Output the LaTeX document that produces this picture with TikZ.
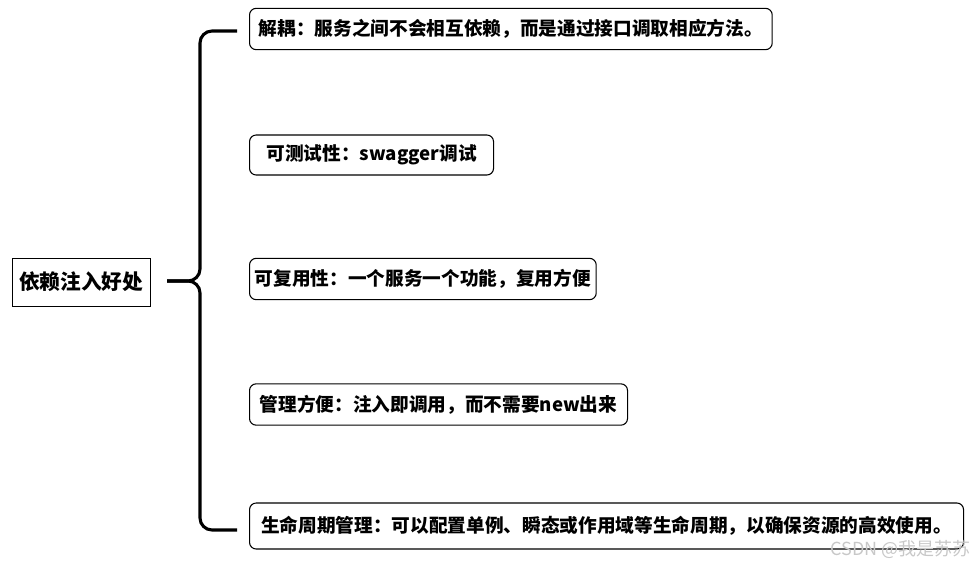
\documentclass[tikz,border=0pt]{standalone}
\usepackage{fontspec}
\setmainfont{Noto Sans CJK SC}
\newfontfamily\cjkbold{Noto Sans CJK SC}[BoldFont={* Bold}]
\usetikzlibrary{positioning}
\definecolor{mark-gray}{HTML}{C8C8C8}

\begin{document}
\begin{tikzpicture}[x=0.75pt,y=-0.75pt,
  rootbox/.style={draw, line width=0.6pt, minimum width=103.5pt, minimum height=36pt, inner sep=0pt, font=\fontsize{15.5}{18}\selectfont\bfseries},
  itembox/.style={draw, line width=0.8pt, rounded corners=5pt, anchor=west, minimum height=31pt, inner sep=0pt, font=\fontsize{14}{17}\selectfont\bfseries},
  brace/.style={line width=2.3pt, rounded corners=9pt}]
\useasboundingbox (0,0) rectangle (980,567);
% root
\node[rootbox] (root) at (81,282) {依赖注入好处};
% items
\node[itembox, minimum width=392pt] (decouple) at (249,29) {解耦：服务之间不会相互依赖，而是通过接口调取相应方法。};
\node[itembox, minimum width=183pt, minimum height=30pt] (test) at (249,155) {可测试性：swagger调试};
\node[itembox, minimum width=260pt] (reuse) at (249,279) {可复用性：一个服务一个功能，复用方便};
\node[itembox, minimum width=283.5pt] (manage) at (249,404.5) {管理方便：注入即调用，而不需要new出来};
\node[itembox, minimum width=535.5pt, minimum height=34.5pt] (life) at (249,526) {生命周期管理：可以配置单例、瞬态或作用域等生命周期，以确保资源的高效使用。};
% brace
\coordinate (tip) at (167,281);
\coordinate (top) at (237,31);
\coordinate (bot) at (237,530);
\draw[brace] (tip) -- (200,281) -- (200,31) -- (top);
\draw[brace] (tip) -- (200,281) -- (200,530) -- (bot);
% watermark
\node[mark-gray, anchor=west, inner sep=0pt, font=\fontsize{13.5}{15}\selectfont] (mark) at (830,549) {CSDN @我是苏苏};
\end{tikzpicture}
\end{document}
